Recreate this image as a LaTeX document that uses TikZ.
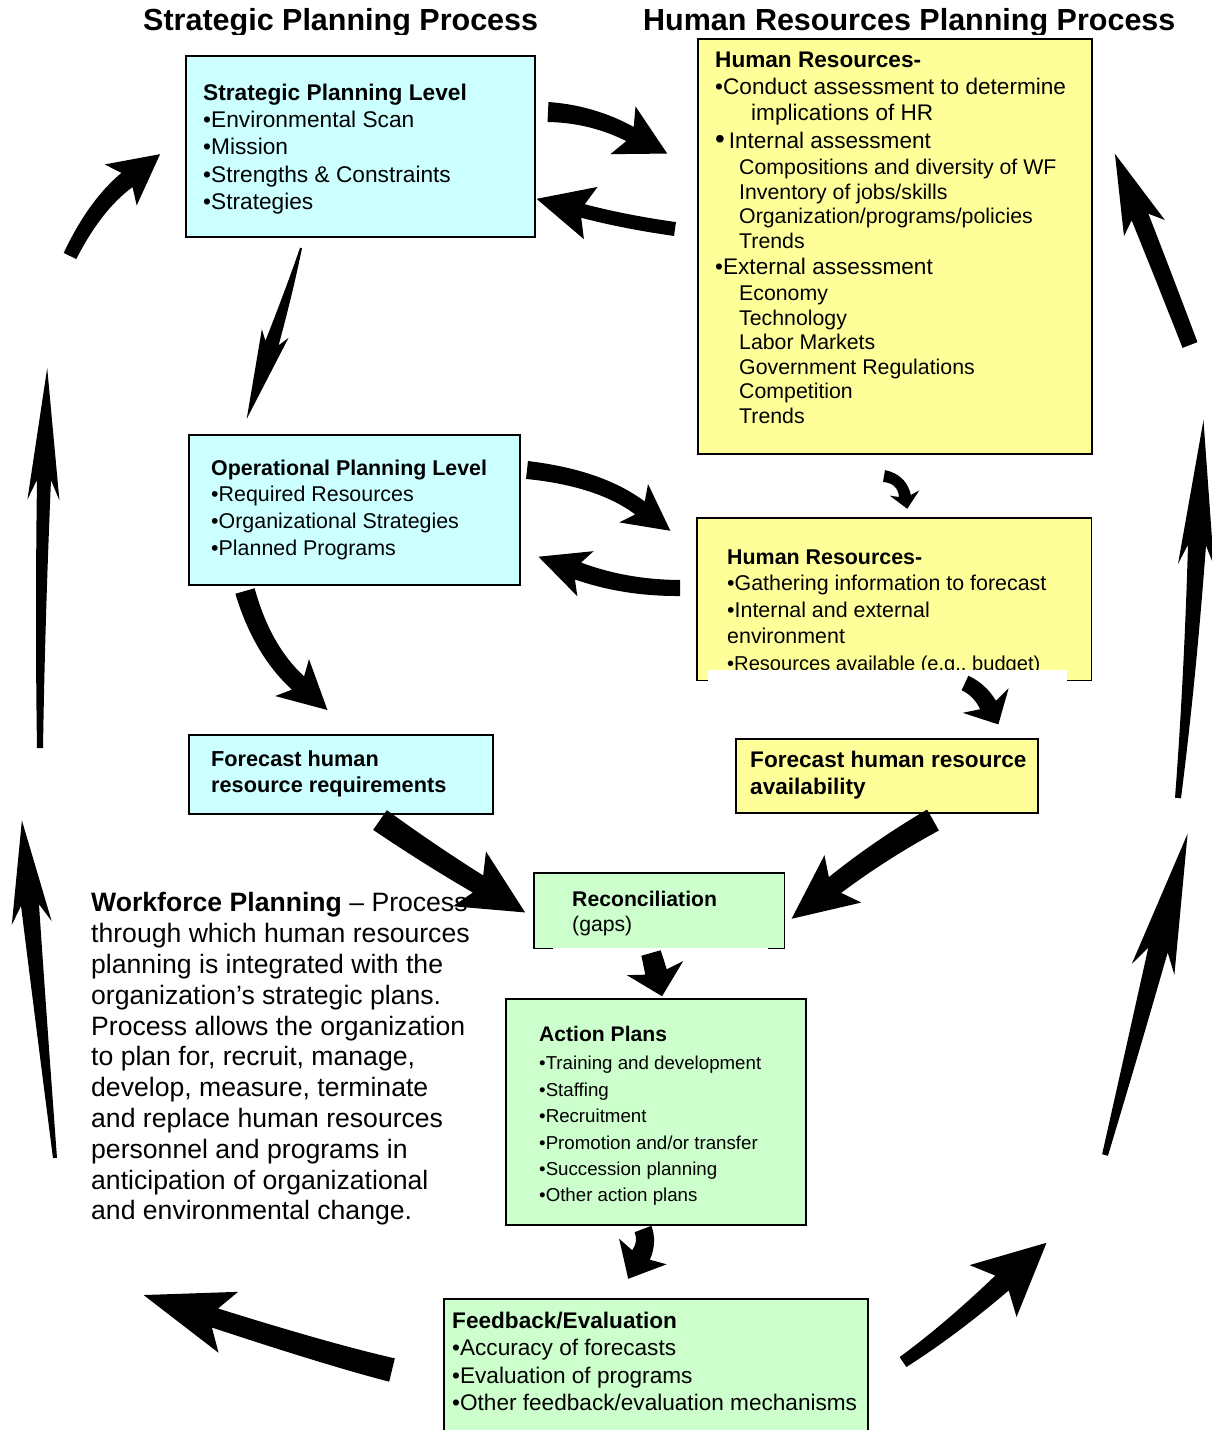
\documentclass[tikz,border=0pt]{standalone}
\usepackage{fontspec}
\setmainfont{Liberation Sans}
\usetikzlibrary{calc}
\definecolor{cyanfill}{HTML}{CCFFFF}
\definecolor{yelfill}{HTML}{FFFF99}
\definecolor{grnfill}{HTML}{CCFFCC}
\newcommand\fs[2]{\fontsize{#1}{#2}\selectfont}
% #1 tail, #2 control, #3 head base, #4 tail half width, #5 base half width,
% #6 head half width, #7 head length, #8 barb sweep
\newcommand\blockarrow[8]{%
  \pgfmathsetmacro\bamid{0.5*(#4+#5)}%
  \path ($(#1)!#4pt!90:(#2)$) coordinate (baSL)
        ($(#1)!#4pt!-90:(#2)$) coordinate (baSR)
        ($(#3)!#5pt!-90:(#2)$) coordinate (baBL)
        ($(#3)!#5pt!90:(#2)$) coordinate (baBR)
        ($(#1)!\bamid pt!90:(#3)$) coordinate (baoL)
        ($(#1)!\bamid pt!-90:(#3)$) coordinate (baoR)
        ($(#3)!#8pt!(#2)$) coordinate (baK)
        ($(#3)!-#7pt!(#2)$) coordinate (baT);
  \path ($(baK)!#6pt!-90:(#2)$) coordinate (baHL)
        ($(baK)!#6pt!90:(#2)$) coordinate (baHR)
        ($(#2)+(baoL)-(#1)$) coordinate (baCL)
        ($(#2)+(baoR)-(#1)$) coordinate (baCR);
  \fill (baSL) .. controls ($(baSL)!0.667!(baCL)$) and ($(baBL)!0.667!(baCL)$) .. (baBL)
     -- (baHL) -- (baT) -- (baHR) -- (baBR)
     .. controls ($(baBR)!0.667!(baCR)$) and ($(baSR)!0.667!(baCR)$) .. (baSR) -- cycle;}
\begin{document}
\begin{tikzpicture}[x=1pt,y=-1pt,
  box/.style={draw=black,line width=1.5pt,anchor=north west,inner sep=0pt},
  fbox/.style={anchor=north west,inner sep=0pt},
  txt/.style={anchor=north west,inner sep=0pt,align=left}]
\useasboundingbox (0,0) rectangle (1212,1430);

% titles
\begin{scope}
\clip (0,0) rectangle (1212,34);
\node[txt,font=\fs{30.5}{34}\bfseries] (t1) at (143,8) {Strategic Planning Process};
\node[txt,font=\fs{30.5}{34}\bfseries] (t2) at (643,8) {Human Resources Planning Process};
\end{scope}

% boxes
\node[box,fill=cyanfill,minimum width=349pt,minimum height=181pt] (sp) at (185,55) {};
\node[txt,font=\fs{22.7}{27.2}] (spt) at (203,83.8) {\textbf{Strategic Planning Level}\\•Environmental Scan\\•Mission\\•Strengths \& Constraints\\•Strategies};

\node[box,fill=yelfill,minimum width=394pt,minimum height=415pt] (hr1) at (697,38) {};
\node[txt,font=\fs{22.6}{24.6}] (hr1t) at (715,51.9) {\textbf{Human Resources-}\\[2.4pt]
•Conduct assessment to determine\\[1.4pt]
\hspace*{36pt}implications of HR\\[3.4pt]
{\fs{28}{24.6}•}\,Internal assessment\\[1.4pt]
{\fs{21.3}{24.6}\hspace*{24pt}Compositions and diversity of WF}\\
{\fs{21.3}{24.6}\hspace*{24pt}Inventory of jobs/skills}\\
{\fs{21.3}{24.6}\hspace*{24pt}Organization/programs/policies}\\
{\fs{21.3}{24.6}\hspace*{24pt}Trends}\\[1.4pt]
•External assessment\\[1.4pt]
{\fs{21.3}{24.6}\hspace*{24pt}Economy}\\
{\fs{21.3}{24.6}\hspace*{24pt}Technology}\\
{\fs{21.3}{24.6}\hspace*{24pt}Labor Markets}\\
{\fs{21.3}{24.6}\hspace*{24pt}Government Regulations}\\
{\fs{21.3}{24.6}\hspace*{24pt}Competition}\\
{\fs{21.3}{24.6}\hspace*{24pt}Trends}};

\node[box,fill=cyanfill,minimum width=331pt,minimum height=150pt] (op) at (188,434) {};
\node[txt,font=\fs{21.4}{26.7}] (opt) at (211,459.3) {\textbf{Operational Planning Level}\\•Required Resources\\•Organizational Strategies\\•Planned Programs};

\node[fbox,fill=yelfill,minimum width=394pt,minimum height=162pt] (hr2) at (697,518) {};
\node[txt,font=\fs{21.4}{26.5}] (hr2t) at (727,549.3) {\textbf{Human Resources-}\\•Gathering information to forecast\\•Internal and external\\environment\\{\fs{20.1}{26.5}•Resources available (e.g., budget)}};
\fill[white] (708,670) rectangle (1067,684);
\draw[line width=1.5pt] ([xshift=11pt]hr2.south west) -- (hr2.south west) -- (hr2.north west) -- (hr2.north east) -- (hr2.south east) -- ([xshift=-24pt]hr2.south east);

\node[box,fill=cyanfill,minimum width=304pt,minimum height=79pt] (fr) at (188,734) {};
\node[txt,font=\fs{21.7}{26}\bfseries] (frt) at (211,750.2) {Forecast human\\resource requirements};

\node[box,fill=yelfill,minimum width=302pt,minimum height=74pt] (fa) at (735,738) {};
\node[txt,font=\fs{22.6}{27}\bfseries] (fat) at (750,750.9) {Forecast human resource\\availability};

\node[fbox,fill=grnfill,minimum width=250pt,minimum height=75pt] (rc) at (534,873) {};
\draw[line width=1.5pt] ([xshift=19pt]rc.south west) -- (rc.south west) -- (rc.north west) -- (rc.north east) -- (rc.south east) -- ([xshift=-16pt]rc.south east);
\node[txt,font=\fs{21.2}{24.5}] (rct) at (572,891.4) {\textbf{Reconciliation}\\(gaps)};

\node[box,fill=grnfill,minimum width=300pt,minimum height=226pt] (ap) at (505,998) {};
\node[txt,font=\fs{21.1}{28}] (apt) at (539,1026.4) {\textbf{Action Plans}\\{\fs{18.7}{26.4}•Training and development}\\[-1.6pt]
{\fs{18.7}{26.4}•Staffing}\\[-1.6pt]
{\fs{18.7}{26.4}•Recruitment}\\[-1.6pt]
{\fs{18.7}{26.4}•Promotion and/or transfer}\\[-1.6pt]
{\fs{18.7}{26.4}•Succession planning}\\[-1.6pt]
{\fs{18.7}{26.4}•Other action plans}};

\node[box,fill=grnfill,minimum width=424pt,minimum height=150pt] (fb) at (443,1298) {};
\node[txt,font=\fs{22.6}{27.3}] (fbt) at (452,1311.9) {\textbf{Feedback/Evaluation}\\•Accuracy of forecasts\\•Evaluation of programs\\•Other feedback/evaluation mechanisms};

\node[txt,font=\fs{26.6}{30.8}] (wf) at (91,892.4) {\textbf{Workforce Planning} – Process\\through which human resources\\planning is integrated with the\\organization's strategic plans.\\Process allows the organization\\to plan for, recruit, manage,\\develop, measure, terminate\\and replace human resources\\personnel and programs in\\anticipation of organizational\\and environmental change.};

% arrow geometry (tail, control, head base)
\coordinate (a1s) at (548,112); \coordinate (a1c) at (592,114); \coordinate (a1b) at (630,134);
\coordinate (a2s) at (675,229); \coordinate (a2c) at (625,222); \coordinate (a2b) at (583,211);
\coordinate (a3s) at (301,248); \coordinate (a3c) at (289,292); \coordinate (a3b) at (272,343);
\coordinate (a4s) at (527,470); \coordinate (a4c) at (600,478); \coordinate (a4b) at (640,508);
\coordinate (a5s) at (680,588); \coordinate (a5c) at (625,588); \coordinate (a5b) at (578,571);
\coordinate (a6s) at (884,476); \coordinate (a6c) at (902,479); \coordinate (a6b) at (905,496);
\coordinate (a7s) at (245,591); \coordinate (a7c) at (262,650); \coordinate (a7b) at (298,683);
\coordinate (a8s) at (965,683); \coordinate (a8c) at (980,690); \coordinate (a8b) at (988,705);
\coordinate (a9s) at (380,820); \coordinate (a9c) at (430,855); \coordinate (a9b) at (478,884);
\coordinate (a10s) at (933,820); \coordinate (a10c) at (880,850); \coordinate (a10b) at (835,885);
\coordinate (a11s) at (651,953); \coordinate (a11c) at (653,960); \coordinate (a11b) at (656,972);
\coordinate (a12s) at (643,1229); \coordinate (a12c) at (648,1242); \coordinate (a12b) at (641,1255);
\coordinate (a13s) at (392,1370); \coordinate (a13c) at (330,1355); \coordinate (a13b) at (215,1318);
\coordinate (a15s) at (903,1362); \coordinate (a15c) at (950,1330); \coordinate (a15b) at (1002,1283);
\coordinate (l1s) at (55,1158); \coordinate (l1c) at (42,1030); \coordinate (l1b) at (30,905);
\coordinate (l2s) at (40,748); \coordinate (l2c) at (40,620); \coordinate (l2b) at (44,480);
\coordinate (l3s) at (70,256); \coordinate (l3c) at (95,205); \coordinate (l3b) at (127,180);
\coordinate (r1s) at (1105,1155); \coordinate (r1c) at (1130,1060); \coordinate (r1b) at (1158,950);
\coordinate (r2s) at (1178,798); \coordinate (r2c) at (1190,680); \coordinate (r2b) at (1197,545);
\coordinate (r3s) at (1190,345); \coordinate (r3c) at (1165,280); \coordinate (r3b) at (1140,217);

\blockarrow{a1s}{a1c}{a1b}{10}{8}{27}{42}{8}
\blockarrow{a2s}{a2c}{a2b}{7}{7}{27}{48}{8}
\blockarrow{a3s}{a3c}{a3b}{1}{7}{14}{80}{10}
\blockarrow{a4s}{a4c}{a4b}{9}{8}{24}{38}{8}
\blockarrow{a5s}{a5c}{a5b}{8}{9}{24}{42}{8}
\blockarrow{a6s}{a6c}{a6b}{6}{6}{15}{13}{3}
\blockarrow{a7s}{a7c}{a7b}{10}{9}{25}{40}{8}
\blockarrow{a8s}{a8c}{a8b}{8}{9}{26}{22}{5}
\blockarrow{a9s}{a9c}{a9b}{12}{10}{32}{55}{10}
\blockarrow{a10s}{a10c}{a10b}{12}{10}{30}{55}{10}
\blockarrow{a11s}{a11c}{a11b}{10}{11}{29}{25}{4}
\blockarrow{a12s}{a12c}{a12b}{9}{10}{27}{27}{4}
\blockarrow{a13s}{a13c}{a13b}{12}{10}{32}{75}{14}
\blockarrow{a15s}{a15c}{a15b}{6}{10}{35}{60}{12}
\blockarrow{l1s}{l1c}{l1b}{2}{9}{20}{85}{18}
\blockarrow{l2s}{l2c}{l2b}{3}{7}{16}{112}{20}
\blockarrow{l3s}{l3c}{l3b}{7}{9}{26}{42}{8}
\blockarrow{r1s}{r1c}{r1b}{3}{10}{22}{120}{20}
\blockarrow{r2s}{r2c}{r2b}{3}{9}{18}{125}{20}
\blockarrow{r3s}{r3c}{r3b}{8}{9}{22}{68}{12}
\end{tikzpicture}
\end{document}
